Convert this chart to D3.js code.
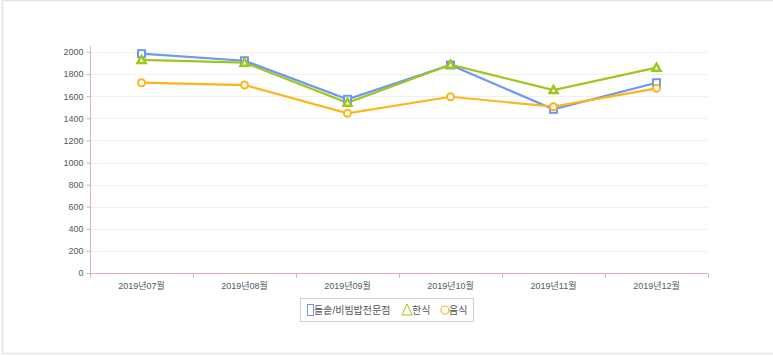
<!DOCTYPE html>
<html><head><meta charset="utf-8">
<script src="https://cdn.jsdelivr.net/npm/d3@7"></script>
<style>
html,body{margin:0;padding:0;background:#fff;}
svg{display:block;}
text{font-family:"Liberation Sans","Noto Sans CJK KR",sans-serif;}
</style></head><body>
<svg id="c" width="773" height="356"></svg>
<script>
const categories = ["2019년07월","2019년08월","2019년09월","2019년10월","2019년11월","2019년12월"];
const seriesNames = ["돌솥/비빔밥전문점","한식","음식"];
const seriesBlue = [1985,1921,1572,1882,1481,1722];
const seriesGreen = [1928,1903,1541,1885,1656,1858];
const seriesOrange = [1722,1701,1445,1595,1505,1671];
const yTicks = [0,200,400,600,800,1000,1200,1400,1600,1800,2000];

const colors = ["#6e96f5","#9fc71b","#fdb51c"];
const shapes = ["square","triangle","circle"];
const data = [seriesBlue, seriesGreen, seriesOrange];

const svg = d3.select("#c");
// outer border
svg.append("rect").attr("x",2.5).attr("y",0.5).attr("width",775).attr("height",353)
  .attr("fill","none").attr("stroke","#e3e3e8").attr("stroke-width",1.5);

const L=90, R=708, T=52, B=273;
const x = d3.scaleBand().domain(categories).range([L,R]);
const y = d3.scaleLinear().domain([0,2000]).range([B,T]);

// gridlines
svg.append("g").selectAll("line").data(yTicks.filter(d=>d>0)).join("line")
  .attr("x1",L).attr("x2",R).attr("y1",d=>Math.round(y(d))+0.5).attr("y2",d=>Math.round(y(d))+0.5)
  .attr("stroke","#f0f0f0");

const axisColor = "#dbb0bf";
// y axis
const ya = svg.append("g").attr("transform",`translate(${L+0.5},0)`)
  .call(d3.axisLeft(y).tickValues(yTicks).tickFormat(d3.format("d")).tickSize(4).tickPadding(3));
ya.select(".domain").attr("stroke",axisColor).attr("d",`M0,${T-6}V${B+0.5}`);
ya.selectAll(".tick line").attr("stroke",axisColor);
ya.selectAll(".tick text").attr("fill","#4f5a66").attr("font-size","9px");

// x axis
const xa = svg.append("g").attr("transform",`translate(0,${B+0.5})`)
  .call(d3.axisBottom(x).tickSize(0).tickPadding(9));
xa.select(".domain").attr("stroke",axisColor).attr("d",`M${L},0H${R}`);
xa.selectAll(".tick text").attr("fill","#4f5a66").attr("font-size","9px");
// boundary ticks
xa.append("g").selectAll("line").data(categories.map(c=>x(c)).concat([R])).join("line")
  .attr("x1",d=>d+0.5).attr("x2",d=>d+0.5).attr("y1",0).attr("y2",4).attr("stroke",axisColor);

const cx = c => x(c)+x.bandwidth()/2;
const line = d3.line().x((d,i)=>cx(categories[i])).y(d=>y(d));

function marker(g, shape, color, px, py){
  if(shape==="square"){
    g.append("rect").attr("x",px-3.5).attr("y",py-3.5).attr("width",7).attr("height",7)
      .attr("fill","#fff").attr("stroke",color).attr("stroke-width",2);
  } else if(shape==="triangle"){
    g.append("path").attr("d",`M${px},${py-4}L${px+4},${py+3}L${px-4},${py+3}Z`)
      .attr("fill","#fff").attr("stroke",color).attr("stroke-width",2.5);
  } else {
    g.append("circle").attr("cx",px).attr("cy",py).attr("r",3.5)
      .attr("fill","#fff").attr("stroke",color).attr("stroke-width",2);
  }
}

data.forEach((s,k)=>{
  svg.append("path").datum(s).attr("d",line).attr("fill","none")
    .attr("stroke",colors[k]).attr("stroke-width",2.2);
});
data.forEach((s,k)=>{
  const g = svg.append("g");
  s.forEach((v,i)=>marker(g, shapes[k], colors[k], cx(categories[i]), y(v)));
});

// legend
const lg = svg.append("g");
lg.append("rect").attr("x",300.5).attr("y",298.5).attr("width",173).attr("height",23)
  .attr("fill","#fff").attr("stroke","#d0d0d0");
const ly = 310;
lg.append("rect").attr("x",307.5).attr("y",304.5).attr("width",6).attr("height",11)
  .attr("fill","#fff").attr("stroke",colors[0]).attr("stroke-width",1);
lg.append("text").attr("x",314).attr("y",ly+4).attr("font-size","10px").attr("fill","#555").text(seriesNames[0]);
lg.append("path").attr("d",`M407,304L412,315L402,315Z`).attr("fill","#fff").attr("stroke",colors[1]).attr("stroke-width",1);
lg.append("text").attr("x",412).attr("y",ly+4).attr("font-size","10px").attr("fill","#555").text(seriesNames[1]);
lg.append("circle").attr("cx",445).attr("cy",310).attr("r",4).attr("fill","#fff").attr("stroke",colors[2]).attr("stroke-width",1.2);
lg.append("text").attr("x",449).attr("y",ly+4).attr("font-size","10px").attr("fill","#555").text(seriesNames[2]);
</script></body></html>
